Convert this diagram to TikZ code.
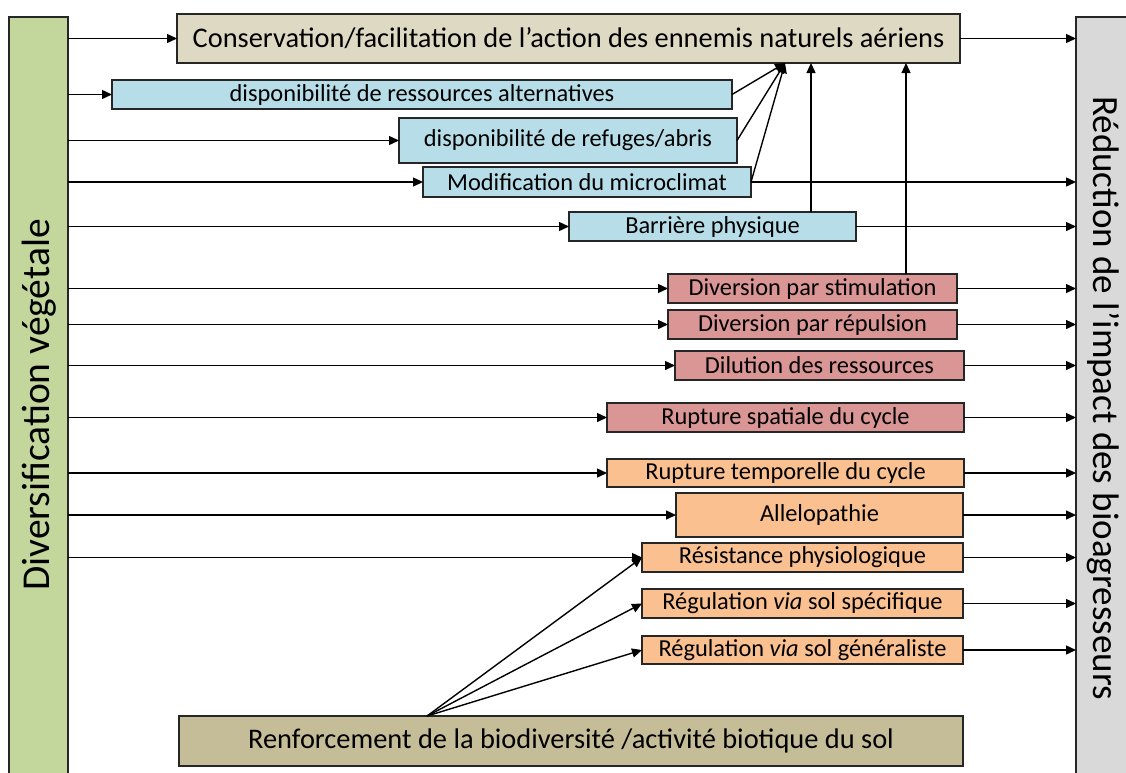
\documentclass[tikz,border=0pt]{standalone}
\usepackage{fontspec}
\setmainfont{Carlito}
\usetikzlibrary{arrows.meta}
\definecolor{cgreen}{HTML}{C3D69B}
\definecolor{cgrey}{HTML}{D9D9D9}
\definecolor{ctan}{HTML}{DDD9C3}
\definecolor{cblue}{HTML}{B7DEE8}
\definecolor{cred}{HTML}{D99694}
\definecolor{corange}{HTML}{FAC090}
\definecolor{colive}{HTML}{C4BD97}
\begin{document}
\begin{tikzpicture}[x=1pt,y=-1pt,
  box/.style={draw=black!85,line width=1.1pt,inner sep=0pt,outer sep=0pt,anchor=center},
  mech/.style={box,font=\fontsize{24.4}{26}\selectfont},
  bluebox/.style={mech,fill=cblue},
  redbox/.style={mech,fill=cred},
  orbox/.style={mech,fill=corange},
  link/.style={line width=1.4pt,-{Triangle[length=10pt,width=9pt]}}]
\useasboundingbox (0,0) rectangle (1126,772);
% side bars
\node[box,fill=cgreen,minimum width=59pt,minimum height=775pt] (veg) at (38.5,404.5) {};
\node[rotate=90,font=\fontsize{39.5}{42}\selectfont] at (39,405) {Diversification végétale};
\node[box,fill=cgrey,minimum width=64pt,minimum height=775pt] (red) at (1108,404.5) {};
\node[rotate=-90,font=\fontsize{37}{40}\selectfont] at (1103,398) {Réduction de l’impact des bioagresseurs};
% top and bottom boxes
\node[box,fill=ctan,minimum width=783pt,minimum height=49pt,font=\fontsize{28.4}{30}\selectfont] (top) at (568.5,38.5) {Conservation/facilitation de l’action des ennemis naturels aériens};
\node[box,fill=colive,minimum width=784pt,minimum height=50pt,font=\fontsize{28.4}{30}\selectfont] (ren) at (571,741) {Renforcement de la biodiversité /activité biotique du sol};
% mechanism boxes
\node[bluebox,minimum width=620pt,minimum height=29pt] (res) at (422,94.5) {disponibilité de ressources alternatives};
\node[bluebox,minimum width=338pt,minimum height=45pt] (ref) at (568,140.5) {disponibilité de refuges/abris};
\node[bluebox,minimum width=328pt,minimum height=30pt] (mic) at (587,182) {Modification du microclimat};
\node[bluebox,minimum width=287pt,minimum height=29pt] (bar) at (712.5,226.5) {Barrière physique};
\node[redbox,minimum width=289pt,minimum height=29pt] (stim) at (812.5,288.5) {Diversion par stimulation};
\node[redbox,minimum width=289pt,minimum height=29pt] (rep) at (812.5,324.5) {Diversion par répulsion};
\node[redbox,minimum width=289pt,minimum height=29pt] (dil) at (819.5,365.5) {Dilution des ressources};
\node[redbox,minimum width=357pt,minimum height=29pt] (spa) at (785.5,417.5) {Rupture spatiale du cycle};
\node[orbox,minimum width=357pt,minimum height=28pt] (tem) at (785.5,473) {Rupture temporelle du cycle};
\node[orbox,minimum width=287pt,minimum height=44pt] (all) at (819.5,515) {Allelopathie};
\node[orbox,minimum width=321pt,minimum height=29pt] (phy) at (802.5,557.5) {Résistance physiologique};
\node[orbox,minimum width=321pt,minimum height=29pt] (spe) at (802.5,603.5) {Régulation \textit{via} sol spécifique};
\node[orbox,minimum width=321pt,minimum height=28pt] (gen) at (802.5,650) {Régulation \textit{via} sol généraliste};
% helper points
\coordinate (hub) at (785,63);
\coordinate (vb) at (811,0);
\coordinate (vs) at (906,0);
\coordinate (rsrc) at (427,716);
\coordinate (micsrc) at (68,182);
% inputs from plant diversification
\foreach \n in {top,res,ref,bar,stim,rep,dil,spa,tem,all,phy}
  \draw[link] (veg.east |- \n.west) -- (\n.west);
\draw[link] (micsrc) -- (mic.west);
% outputs to pest impact reduction
\foreach \n in {top,mic,bar,stim,rep,dil,spa,tem,all,phy,spe,gen}
  \draw[link] (\n.east) -- (red.west |- \n.east);
% towards natural enemies
\foreach \n in {res,ref,mic}
  \draw[link] (\n.east) -- (hub);
\draw[link] (bar.north -| vb) -- (top.south -| vb);
\draw[link] (stim.north -| vs) -- (top.south -| vs);
% soil biota
\foreach \n in {phy,spe,gen}
  \draw[link] (rsrc) -- (\n.west);
\end{tikzpicture}
\end{document}
